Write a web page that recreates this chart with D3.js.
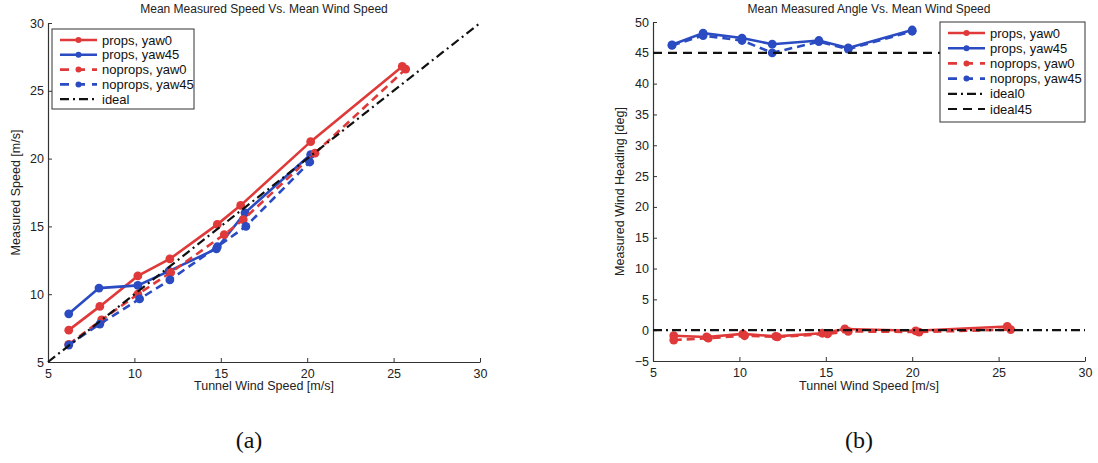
<!DOCTYPE html>
<html><head><meta charset="utf-8">
<script src="https://cdn.jsdelivr.net/npm/d3@7"></script>
<style>body{margin:0;background:#fff}svg{display:block}</style>
</head><body>
<svg id="c" width="1098" height="463"></svg>
<script>
// ---- data: panel (a) speed ----
const xTicks = [5, 10, 15, 20, 25, 30];
const speedTicks = [5, 10, 15, 20, 25, 30];
const angleTicks = [-5, 0, 5, 10, 15, 20, 25, 30, 35, 40, 45, 50];

const aPropsYaw0X = [6.2, 8.0, 10.2, 12.05, 14.8, 16.15, 20.2, 25.5];
const aPropsYaw0Y = [7.35, 9.1, 11.35, 12.6, 15.15, 16.55, 21.25, 26.8];
const aPropsYaw45X = [6.2, 7.95, 10.2, 12.0, 14.75, 16.4, 20.2];
const aPropsYaw45Y = [8.55, 10.45, 10.65, 11.7, 13.35, 16.0, 20.3];
const aNopropsYaw0X = [6.2, 8.1, 10.2, 12.1, 15.2, 16.3, 20.45, 25.7];
const aNopropsYaw0Y = [6.3, 8.1, 10.0, 11.6, 14.4, 15.5, 20.4, 26.6];
const aNopropsYaw45X = [6.2, 8.0, 10.3, 12.05, 14.8, 16.45, 20.15];
const aNopropsYaw45Y = [6.25, 7.8, 9.65, 11.05, 13.5, 15.0, 19.75];
const idealX = [5, 30];
const idealSpeedY = [5, 30];

// ---- data: panel (b) angle ----
const bPropsYaw0X = [6.2, 8.1, 10.2, 12.1, 14.8, 16.1, 20.2, 25.5];
const bPropsYaw0Y = [-0.9, -1.1, -0.6, -1.0, -0.5, 0.2, -0.1, 0.6];
const bPropsYaw45X = [6.1, 7.9, 10.15, 11.9, 14.6, 16.3, 20.0];
const bPropsYaw45Y = [46.3, 48.2, 47.4, 46.4, 47.0, 45.8, 48.7];
const bNopropsYaw0X = [6.2, 8.2, 10.3, 12.2, 15.1, 16.3, 20.4, 25.7];
const bNopropsYaw0Y = [-1.6, -1.3, -0.9, -1.1, -0.6, -0.2, -0.3, 0.1];
const bNopropsYaw45X = [6.1, 7.9, 10.15, 11.9, 14.6, 16.3, 20.0];
const bNopropsYaw45Y = [46.2, 47.8, 47.0, 45.0, 46.8, 45.6, 48.5];
const ideal0Y = [0, 0];
const ideal45Y = [45, 45];

const RED = "#e0393a", BLUE = "#2a4bc2";
const FONT = "'Liberation Sans', Arial, sans-serif";
const svg = d3.select("#c");

const zip = (xs, ys) => xs.map((x, i) => [x, ys[i]]);

function panel(cfg) {
  const x = d3.scaleLinear().domain([5, 30]).range([cfg.x0, cfg.x1]);
  const y = d3.scaleLinear().domain(cfg.yDomain).range([cfg.yB, cfg.yT]);
  const g = svg.append("g");

  // axes
  const xa = g.append("g").attr("transform", `translate(0,${cfg.yB})`)
    .call(d3.axisBottom(x).tickValues(xTicks).tickSizeInner(-4).tickSizeOuter(0).tickPadding(7));
  const ya = g.append("g").attr("transform", `translate(${cfg.x0},0)`)
    .call(d3.axisLeft(y).tickValues(cfg.yTicks).tickSizeInner(-4).tickSizeOuter(0).tickPadding(4));
  [xa, ya].forEach(a => {
    a.select(".domain").attr("stroke", "#333").attr("stroke-width", 1.2);
    a.selectAll(".tick line").attr("stroke", "#333");
    a.selectAll(".tick text").attr("fill", "#222").style("font-family", FONT).style("font-size", "12.5px");
  });

  const line = d3.line().x(d => x(d[0])).y(d => y(d[1]));
  const plot = g.append("g");
  cfg.series.forEach(s => {
    const pts = zip(s.xs, s.ys);
    plot.append("path").attr("d", line(pts)).attr("fill", "none")
      .attr("stroke", s.color).attr("stroke-width", s.w || 2.6)
      .attr("stroke-dasharray", s.dash || null);
    if (s.marker) {
      plot.selectAll(null).data(pts).enter().append("circle")
        .attr("cx", d => x(d[0])).attr("cy", d => y(d[1])).attr("r", 4.4)
        .attr("fill", s.color);
    }
  });

  // titles
  const cx = (cfg.x0 + cfg.x1) / 2;
  g.append("text").attr("x", cx).attr("y", 13).attr("text-anchor", "middle")
    .style("font-family", FONT).style("font-size", "12px").attr("fill", "#222").text(cfg.title);
  g.append("text").attr("x", cx).attr("y", 390).attr("text-anchor", "middle")
    .style("font-family", FONT).style("font-size", "12.5px").attr("fill", "#222").text("Tunnel Wind Speed [m/s]");
  g.append("text").attr("transform", `translate(${cfg.yLabX},${(cfg.yB + cfg.yT) / 2}) rotate(-90)`)
    .attr("text-anchor", "middle").style("font-family", FONT).style("font-size", "12.5px")
    .attr("fill", "#222").text(cfg.yLabel);
  g.append("text").attr("x", cfg.capX).attr("y", 448).attr("text-anchor", "middle")
    .style("font-family", "'Liberation Serif', 'Times New Roman', serif").style("font-size", "24px")
    .attr("fill", "#111").text(cfg.caption);

  // legend
  const L = cfg.legend;
  g.append("rect").attr("x", L.x).attr("y", L.y).attr("width", L.w).attr("height", L.h)
    .attr("fill", "#fff").attr("stroke", "#333").attr("stroke-width", 1);
  cfg.series.forEach((s, i) => {
    const yy = L.y + 11 + i * L.step;
    g.append("line").attr("x1", L.x + 8).attr("x2", L.x + 45).attr("y1", yy).attr("y2", yy)
      .attr("stroke", s.color).attr("stroke-width", s.w || 2.6).attr("stroke-dasharray", s.ldash || s.dash || null);
    if (s.marker) g.append("circle").attr("cx", L.x + 26.5).attr("cy", yy).attr("r", 3).attr("fill", s.color);
    g.append("text").attr("x", L.x + 50).attr("y", yy + 4.5)
      .style("font-family", FONT).style("font-size", "13px").attr("fill", "#111").text(s.name);
  });
}

const DASH = "8,5", DASHDOT = "9,4,2,4";

panel({
  x0: 48, x1: 480, yT: 23, yB: 362, yDomain: [5, 30], yTicks: speedTicks,
  title: "Mean Measured Speed Vs. Mean Wind Speed", yLabel: "Measured Speed [m/s]",
  yLabX: 20, capX: 249, caption: "(a)",
  legend: { x: 52, y: 29, w: 142, h: 80, step: 14.8 },
  series: [
    { name: "props, yaw0", xs: aPropsYaw0X, ys: aPropsYaw0Y, color: RED, marker: true },
    { name: "props, yaw45", xs: aPropsYaw45X, ys: aPropsYaw45Y, color: BLUE, marker: true },
    { name: "noprops, yaw0", xs: aNopropsYaw0X, ys: aNopropsYaw0Y, color: RED, marker: true, dash: DASH, ldash: "9,7" },
    { name: "noprops, yaw45", xs: aNopropsYaw45X, ys: aNopropsYaw45Y, color: BLUE, marker: true, dash: DASH, ldash: "9,7" },
    { name: "ideal", xs: idealX, ys: idealSpeedY, color: "#111", dash: DASHDOT, w: 2.2 }
  ]
});

panel({
  x0: 653, x1: 1085, yT: 22, yB: 361, yDomain: [-5, 50], yTicks: angleTicks,
  title: "Mean Measured Angle Vs. Mean Wind Speed", yLabel: "Measured Wind Heading [deg]",
  yLabX: 624, capX: 859, caption: "(b)",
  legend: { x: 940, y: 22, w: 145, h: 100, step: 15.2 },
  series: [
    { name: "props, yaw0", xs: bPropsYaw0X, ys: bPropsYaw0Y, color: RED, marker: true },
    { name: "props, yaw45", xs: bPropsYaw45X, ys: bPropsYaw45Y, color: BLUE, marker: true },
    { name: "noprops, yaw0", xs: bNopropsYaw0X, ys: bNopropsYaw0Y, color: RED, marker: true, dash: DASH, ldash: "9,7" },
    { name: "noprops, yaw45", xs: bNopropsYaw45X, ys: bNopropsYaw45Y, color: BLUE, marker: true, dash: DASH, ldash: "9,7" },
    { name: "ideal0", xs: idealX, ys: ideal0Y, color: "#111", dash: DASHDOT, w: 2.2 },
    { name: "ideal45", xs: idealX, ys: ideal45Y, color: "#111", dash: "9,6", w: 2.2 }
  ]
});
</script>
</body></html>
